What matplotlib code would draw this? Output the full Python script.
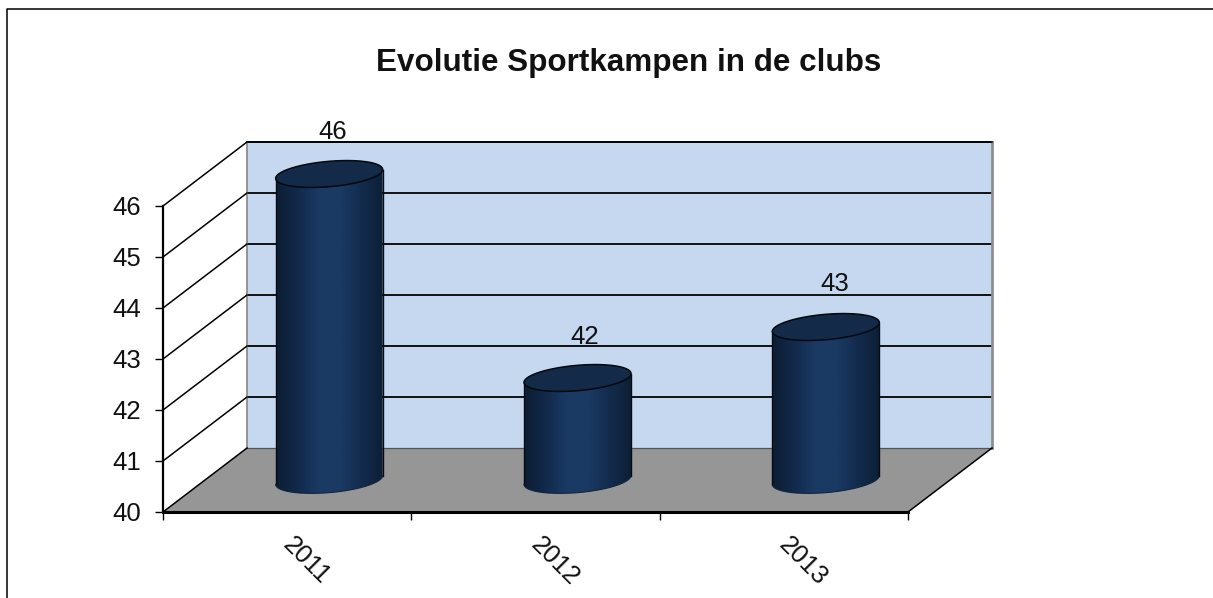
import numpy as np
import matplotlib
matplotlib.use("Agg")
import matplotlib.pyplot as plt
from matplotlib.colors import LinearSegmentedColormap
from matplotlib.lines import Line2D
from matplotlib.patches import Polygon, Rectangle
from matplotlib.transforms import Affine2D, ScaledTranslation

categories = ["2011", "2012", "2013"]
values = [46, 42, 43]
y_ticks = [40, 41, 42, 43, 44, 45, 46]
title = "Evolutie Sportkampen in de clubs"

W, H = 1213, 598
DPI = 100
plt.rcParams["font.family"] = ["Liberation Sans", "DejaVu Sans"]

fig = plt.figure(figsize=(W / DPI, H / DPI), dpi=DPI, facecolor="white")
L, R, T, B = 163, 908, 206, 512
ax = fig.add_axes([L / W, 1 - B / H, (R - L) / W, (B - T) / H])
ax.set_xlim(0, len(categories))
ax.set_ylim(min(y_ticks), max(y_ticks))
ax.patch.set_visible(False)

DEPTH = (84, 64)          # pixels, back plane relative to front plane
TEXT_SIZE = 18.5


def deep(frac):
    return ax.transData + Affine2D().translate(DEPTH[0] * frac, DEPTH[1] * frac)


back = deep(1)
xmin, xmax = ax.get_xlim()
ymin, ymax = ax.get_ylim()

# Back wall
ax.add_patch(Rectangle((xmin, ymin), xmax - xmin, ymax - ymin, transform=back,
                       fc="#c6d8f0", ec="none", clip_on=False, zorder=1))
for v in y_ticks[1:]:
    ax.add_line(Line2D([xmin, xmax], [v, v], transform=back, color="#0a0a0a", lw=1.35,
                       clip_on=False, zorder=2))
ax.add_line(Line2D([xmin, xmin], [ymin, ymax], transform=back, color="#8e8e8e", lw=1.3,
                   clip_on=False, zorder=2))
ax.add_line(Line2D([xmax, xmax], [ymin, ymax], transform=back, color="#8e8e8e", lw=2.0,
                   clip_on=False, zorder=2))

# Floor
tf = ax.transData
p = [tf.transform((xmin, ymin)), tf.transform((xmax, ymin)),
     back.transform((xmax, ymin)), back.transform((xmin, ymin))]
ax.add_patch(Polygon(p, closed=True, transform=None, fc="#969696", ec="none",
                     clip_on=False, zorder=3))
ax.add_line(Line2D([xmin, xmax], [ymin, ymin], transform=back, color="#555555", lw=0.9,
                   clip_on=False, zorder=3))
ax.add_line(Line2D([p[1][0], p[2][0]], [p[1][1], p[2][1]], transform=None, color="black",
                   lw=1.1, clip_on=False, zorder=4))
for v in y_ticks:
    a = tf.transform((xmin, v))
    b = back.transform((xmin, v))
    ax.add_line(Line2D([a[0], b[0]], [a[1], b[1]], transform=None, color="black", lw=1.1,
                       clip_on=False, zorder=4))
a = back.transform((xmin, ymax))
b = back.transform((xmax, ymax))
ax.add_line(Line2D([a[0], b[0]], [a[1], b[1]], transform=None, color="black", lw=1.1,
                   clip_on=False, zorder=4))

# Cylinders
cmap = LinearSegmentedColormap.from_list(
    "cyl", ["#0d1e34", "#12294a", "#1a3a64", "#1a3a63", "#132c4e", "#0d1f35"])
grad = np.linspace(0, 1, 256).reshape(1, -1)
BAR_W = 101 / 248.33      # bar width as category fraction
DEPTH_R = 0.21            # cylinder radius as depth fraction
t = np.linspace(0, 2 * np.pi, 361)
nudge = [(3.5, -2), (7, -3), (9, -1)]


def ellipse(cx_data, v):
    cx, cy = ax.transData.transform((cx_data, v))
    cx += DEPTH[0] * 0.5
    cy += DEPTH[1] * 0.5
    a = BAR_W / 2 * (ax.transData.transform((1, 0))[0] - ax.transData.transform((0, 0))[0])
    x = cx + a * np.cos(t) + DEPTH[0] * DEPTH_R * np.sin(t)
    y = cy + DEPTH[1] * DEPTH_R * np.sin(t)
    return x, y


def arc_below(xe, ye):
    n = len(xe) - 1
    ir_ = np.argmax(xe[:-1])
    arcs = []
    for sign in (-1, 1):
        idx = [(ir_ + sign * j) % n for j in range(n)]
        xs, ys = xe[idx], ye[idx]
        k = np.argmin(xs)
        arcs.append((xs[:k + 1], ys[:k + 1]))
    return arcs[0] if arcs[0][1].mean() < arcs[1][1].mean() else arcs[1]


inv = ax.transData.inverted()
for i, v in enumerate(values):
    xc = i + 0.5
    xt, yt = ellipse(xc, v)
    xb, yb = ellipse(xc, ymin)
    rise = (yt - yb).mean()
    bx, by = arc_below(xb, yb)          # right to left along the base
    body = np.vstack([np.c_[bx, by], [[bx[-1], by[-1] + rise]], [[bx[0], by[0] + rise]]])
    clip = Polygon(body, closed=True, transform=None, fc="none", ec="none")
    ax.add_patch(clip)
    (e0, f0), (e1, f1) = inv.transform([(bx[-1], body[:, 1].min()), (bx[0], body[:, 1].max())])
    im = ax.imshow(grad, cmap=cmap, aspect="auto", extent=(e0, e1, f0, f1), zorder=5)
    im.set_clip_path(clip)
    im.set_clip_box(fig.bbox)
    ax.set_xlim(xmin, xmax)
    ax.set_ylim(ymin, ymax)
    # soft base edge and dark sides
    ax.add_line(Line2D(bx, by, transform=None, color="#14263e", lw=0.8,
                       clip_on=False, zorder=6))
    for px, py in ((bx[0], by[0]), (bx[-1], by[-1])):
        ax.add_line(Line2D([px, px], [py, py + rise], transform=None,
                           color="#050a12", lw=1.0, clip_on=False, zorder=6))
    ax.add_patch(Polygon(np.c_[xt, yt], closed=True, transform=None, fc="#132a49", ec="#04080f",
                         lw=1.1, clip_on=False, zorder=7))
    # data label
    lx, ly = ax.transData.transform((xc, v))
    ax.text(lx + DEPTH[0] * 0.5 + nudge[i][0], ly + 76 + nudge[i][1], str(v), transform=None,
            ha="center", va="center", fontsize=TEXT_SIZE, color="#111111", zorder=8,
            clip_on=False)

# Axes furniture
for s in ("top", "right"):
    ax.spines[s].set_visible(False)
ax.spines["left"].set_linewidth(1.6)
ax.spines["bottom"].set_linewidth(2.2)
for s in ("left", "bottom"):
    ax.spines[s].set_zorder(9)
ax.set_yticks(y_ticks)
ax.tick_params(axis="y", direction="out", length=5.8, width=1.0, labelsize=TEXT_SIZE, pad=10,
               labelcolor="#111111")
ax.set_xticks(np.arange(len(categories) + 1))
ax.set_xticklabels([])
ax.tick_params(axis="x", which="major", direction="out", length=5.8, width=1.0)
ax.set_xticks(np.arange(len(categories)) + 0.5, labels=categories, minor=True)
ax.tick_params(axis="x", which="minor", length=0, labelsize=TEXT_SIZE, pad=15, labelrotation=-45,
               labelcolor="#111111")
shift = ScaledTranslation(19 / DPI, 0, fig.dpi_scale_trans)
for lab in ax.get_xticklabels(minor=True):
    lab.set_transform(lab.get_transform() + shift)
    lab.set_ha("center")
    lab.set_va("top")

fig.text(629 / W, 1 - 63 / H, title, ha="center", va="center", fontsize=22.6, fontweight="bold",
         color="#111111")

# Outer chart frame: only left and top edges are in view
fig.add_artist(Line2D([6.5 / W, 6.5 / W, 1], [0, 1 - 8.5 / H, 1 - 8.5 / H],
                      transform=fig.transFigure, color="black", lw=1.1))

fig.savefig("out.png", dpi=DPI, facecolor="white")
